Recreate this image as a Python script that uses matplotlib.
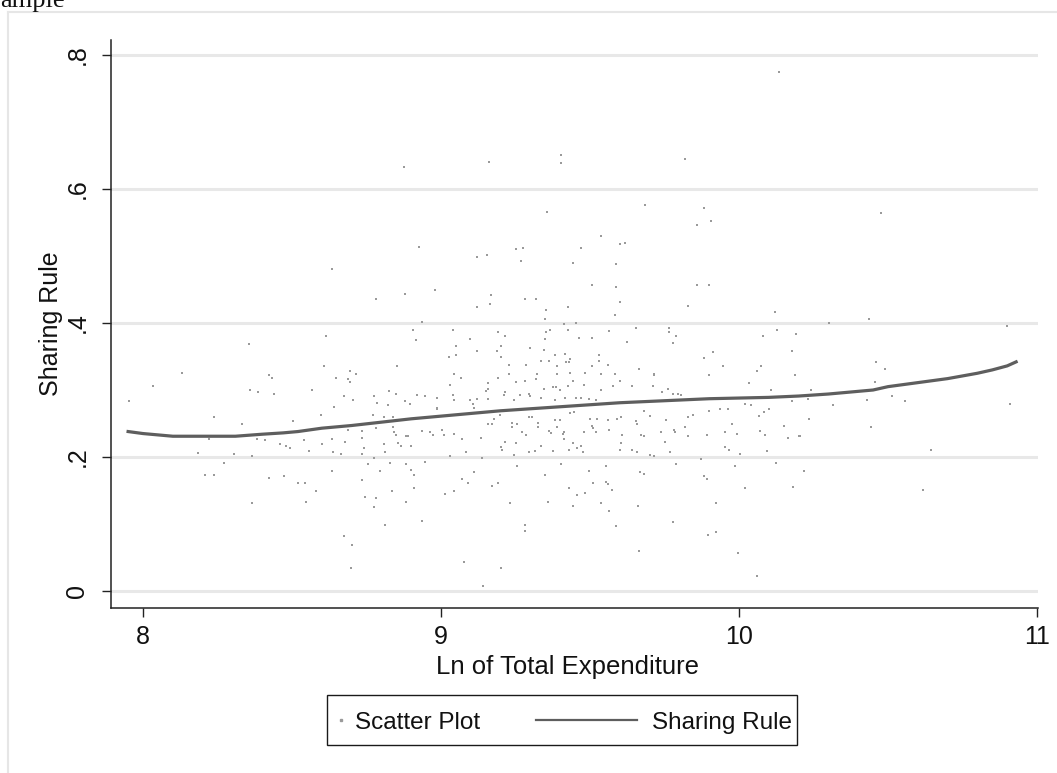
import matplotlib
matplotlib.use('Agg')
import matplotlib.pyplot as plt
from matplotlib.lines import Line2D
from matplotlib.patches import Rectangle

# ---------------- data ----------------
# scatter points (Ln of total expenditure, sharing rule), read region by region
scatter_x = [
    # left region
    8.356, 8.131, 8.034, 7.953, 8.423, 8.432, 8.360, 8.387, 8.441, 8.239,
    8.333, 8.503, 8.221, 8.383, 8.409, 8.459, 8.481, 8.494, 8.186, 8.306,
    8.365, 8.271, 8.208, 8.239, 8.423, 8.472, 8.521, 8.365,
    # upper middle
    8.876, 9.162, 9.404, 9.404, 9.820, 9.686, 9.355, 9.860, 9.538, 9.601,
    9.618, 8.925, 9.471, 9.252, 9.274, 9.153, 9.122, 9.269, 9.444, 9.587,
    8.634, 9.507, 9.587, 9.860, 8.979, 8.880, 9.167, 8.782, 9.283, 9.319,
    9.120, 9.166, 9.353, 9.426, 9.601, 9.583, 9.828, 9.350, 8.937, 9.413,
    9.452,
    # central band above curve
    8.615, 8.906, 8.915, 9.040, 9.098, 9.049, 9.121, 9.027, 9.049, 9.192,
    9.215, 9.201, 9.188, 9.201, 9.353, 9.367, 9.349, 9.426, 9.462, 9.507,
    9.565, 9.654, 9.765, 9.765, 9.788, 9.779, 9.623, 9.300, 9.345, 9.417,
    9.381, 9.529, 9.337, 9.362, 9.421, 9.430, 9.433, 9.529, 9.229, 9.286,
    9.389, 9.507, 9.560, 8.606, 8.852, 8.696, 8.714, 8.647, 8.687, 8.696,
    8.566, 9.045, 9.067, 9.228, 9.322, 9.389, 9.433, 9.484, 9.538, 9.583,
    9.663, 9.716, 9.716, 9.192, 9.319, 9.252, 9.282, 9.443, 9.601, 9.157,
    9.031, 9.157, 9.152, 9.345, 9.377, 9.386, 9.399, 9.426, 9.480, 9.538,
    9.578, 9.641, 9.711, 9.761, 9.743, 9.779, 9.796, 9.805, 8.826, 8.848,
    8.919, 8.946, 8.987, 8.673, 8.776, 8.705, 8.785, 8.879, 8.897, 8.821,
    8.642, 8.987, 9.045, 9.098, 9.121, 9.157, 9.107, 9.112, 9.040, 9.215,
    9.210, 9.246, 9.264, 9.295, 9.298, 9.336, 9.381, 9.417, 9.453, 9.471,
    9.498, 9.520,
    # central band below curve
    8.597, 8.772, 8.808, 8.839, 8.987, 9.197, 9.295, 9.304, 9.381, 9.399,
    9.433, 9.447, 9.501, 9.525, 9.560, 9.592, 9.605, 9.654, 9.659, 9.680,
    9.702, 9.756, 9.828, 9.846, 9.819, 9.783, 9.786, 9.738, 9.828, 9.671,
    9.680, 9.608, 9.565, 9.520, 9.480, 9.507, 9.511, 9.390, 9.362, 9.368,
    9.409, 9.412, 9.413, 9.444, 9.471, 9.457, 9.430, 9.475, 9.605, 9.601,
    9.641, 9.659, 9.702, 9.716, 9.752, 9.770, 9.337, 9.377, 9.315, 9.295,
    9.246, 9.251, 9.215, 9.206, 9.201, 9.273, 9.286, 9.327, 9.327, 9.237,
    9.255, 9.237, 9.157, 9.170, 9.179, 9.134, 9.071, 9.085, 9.031, 9.139,
    9.045, 9.009, 9.004, 8.973, 8.964, 8.937, 8.901, 8.888, 8.884, 8.866,
    8.857, 8.848, 8.843, 8.839, 8.808, 8.812, 8.781, 8.736, 8.736, 8.741,
    8.736, 8.687, 8.678, 8.633, 8.602, 8.539, 8.557, 8.638, 8.664,
    # below .2
    8.776, 8.754, 8.830, 8.884, 8.901, 8.910, 8.946, 8.633, 8.794, 8.544,
    8.580, 8.548, 8.736, 8.834, 8.910, 8.745, 8.781, 8.776, 8.884, 8.812,
    8.937, 8.673, 8.700, 9.013, 9.045, 9.071, 9.090, 9.112, 9.170, 9.192,
    9.233, 9.255, 9.282, 9.282, 9.349, 9.358, 9.403, 9.430, 9.456, 9.483,
    9.443, 9.497, 9.510, 9.555, 9.555, 9.560, 9.573, 9.537, 9.564, 9.586,
    9.667, 9.680, 9.662, 9.788, 9.779,
    # right-middle region
    10.120, 10.128, 10.191, 10.080, 9.914, 9.883, 10.178, 9.946, 10.075, 10.061,
    9.900, 10.187, 10.035, 10.106, 10.178, 10.021, 10.039, 9.900, 9.936, 9.963,
    10.101, 10.084, 10.066, 9.977, 10.151, 10.070, 10.088, 9.954, 9.994, 9.891,
    10.164, 10.200, 9.954, 9.967, 10.003, 10.093, 9.873, 9.986, 10.124, 9.883,
    9.891, 10.021, 10.182, 9.923, 9.923, 9.896,
    # far right
    10.303, 10.437, 10.898, 10.460, 10.491, 10.455, 10.240, 10.231, 10.513, 10.428,
    10.558, 10.316, 10.911, 10.236, 10.442, 10.205, 10.643, 10.218, 10.616,
    # top right outliers
    10.134, 9.883, 9.906, 10.478, 9.900,
    # bottom outliers
    9.664, 9.996, 9.077, 8.697, 9.200, 10.059, 9.141,
]
scatter_y = [
    # left region
    0.368, 0.326, 0.306, 0.283, 0.322, 0.318, 0.300, 0.297, 0.294, 0.259,
    0.249, 0.253, 0.227, 0.227, 0.225, 0.219, 0.217, 0.213, 0.206, 0.204,
    0.202, 0.191, 0.173, 0.173, 0.169, 0.171, 0.161, 0.131,
    # upper middle
    0.633, 0.641, 0.651, 0.639, 0.645, 0.576, 0.566, 0.546, 0.530, 0.518,
    0.520, 0.514, 0.512, 0.510, 0.512, 0.502, 0.498, 0.492, 0.490, 0.488,
    0.480, 0.456, 0.454, 0.456, 0.450, 0.444, 0.442, 0.436, 0.436, 0.436,
    0.424, 0.428, 0.419, 0.424, 0.432, 0.412, 0.426, 0.406, 0.402, 0.398,
    0.400,
    # central band above curve
    0.381, 0.389, 0.374, 0.390, 0.376, 0.366, 0.358, 0.350, 0.352, 0.386,
    0.381, 0.366, 0.358, 0.350, 0.386, 0.390, 0.376, 0.390, 0.378, 0.378,
    0.388, 0.392, 0.392, 0.386, 0.381, 0.370, 0.372, 0.362, 0.360, 0.354,
    0.352, 0.352, 0.344, 0.344, 0.342, 0.342, 0.346, 0.344, 0.338, 0.338,
    0.336, 0.336, 0.338, 0.336, 0.336, 0.328, 0.324, 0.318, 0.316, 0.312,
    0.300, 0.324, 0.318, 0.324, 0.324, 0.324, 0.326, 0.326, 0.324, 0.324,
    0.332, 0.324, 0.322, 0.318, 0.316, 0.312, 0.314, 0.314, 0.314, 0.310,
    0.308, 0.302, 0.298, 0.302, 0.304, 0.304, 0.300, 0.306, 0.308, 0.300,
    0.306, 0.306, 0.306, 0.302, 0.297, 0.294, 0.294, 0.293, 0.298, 0.294,
    0.293, 0.291, 0.288, 0.291, 0.291, 0.285, 0.281, 0.283, 0.279, 0.277,
    0.275, 0.273, 0.285, 0.285, 0.287, 0.287, 0.279, 0.273, 0.293, 0.297,
    0.293, 0.285, 0.293, 0.294, 0.291, 0.288, 0.285, 0.288, 0.288, 0.288,
    0.287, 0.285,
    # central band below curve
    0.263, 0.263, 0.259, 0.259, 0.271, 0.263, 0.259, 0.259, 0.255, 0.255,
    0.265, 0.267, 0.257, 0.257, 0.255, 0.257, 0.259, 0.253, 0.249, 0.269,
    0.261, 0.255, 0.259, 0.263, 0.245, 0.241, 0.238, 0.237, 0.231, 0.233,
    0.231, 0.233, 0.241, 0.237, 0.237, 0.247, 0.244, 0.245, 0.239, 0.236,
    0.235, 0.238, 0.227, 0.221, 0.217, 0.213, 0.211, 0.207, 0.221, 0.211,
    0.211, 0.207, 0.203, 0.201, 0.223, 0.207, 0.217, 0.209, 0.209, 0.207,
    0.203, 0.221, 0.223, 0.211, 0.215, 0.237, 0.233, 0.245, 0.251, 0.251,
    0.249, 0.245, 0.249, 0.249, 0.257, 0.229, 0.227, 0.207, 0.201, 0.199,
    0.235, 0.233, 0.241, 0.233, 0.237, 0.239, 0.217, 0.231, 0.231, 0.217,
    0.221, 0.233, 0.237, 0.245, 0.219, 0.207, 0.243, 0.239, 0.229, 0.213,
    0.205, 0.241, 0.223, 0.227, 0.219, 0.225, 0.209, 0.207, 0.205,
    # below .2
    0.199, 0.189, 0.191, 0.189, 0.181, 0.173, 0.193, 0.179, 0.179, 0.161,
    0.149, 0.133, 0.165, 0.149, 0.153, 0.141, 0.139, 0.125, 0.133, 0.099,
    0.105, 0.082, 0.068, 0.145, 0.149, 0.167, 0.161, 0.177, 0.157, 0.161,
    0.131, 0.187, 0.099, 0.090, 0.173, 0.133, 0.189, 0.153, 0.143, 0.147,
    0.127, 0.179, 0.161, 0.187, 0.163, 0.160, 0.151, 0.131, 0.119, 0.097,
    0.177, 0.175, 0.127, 0.189, 0.103,
    # right-middle region
    0.416, 0.390, 0.384, 0.380, 0.356, 0.348, 0.358, 0.336, 0.336, 0.328,
    0.322, 0.322, 0.310, 0.300, 0.283, 0.279, 0.277, 0.269, 0.271, 0.271,
    0.271, 0.267, 0.261, 0.249, 0.247, 0.239, 0.233, 0.237, 0.235, 0.233,
    0.229, 0.231, 0.215, 0.211, 0.205, 0.209, 0.197, 0.187, 0.191, 0.171,
    0.167, 0.153, 0.155, 0.131, 0.088, 0.084,
    # far right
    0.400, 0.406, 0.396, 0.342, 0.332, 0.312, 0.300, 0.287, 0.291, 0.285,
    0.283, 0.277, 0.279, 0.257, 0.245, 0.231, 0.211, 0.179, 0.151,
    # top right outliers
    0.775, 0.572, 0.552, 0.564, 0.456,
    # bottom outliers
    0.059, 0.057, 0.043, 0.035, 0.035, 0.023, 0.007,
]

# fitted sharing rule curve
curve_x = [7.95, 8.00, 8.05, 8.10, 8.20, 8.31, 8.40, 8.47, 8.52, 8.60,
           8.70, 8.80, 8.90, 9.00, 9.10, 9.20, 9.30, 9.40, 9.50, 9.60,
           9.70, 9.80, 9.90, 10.00, 10.10, 10.20, 10.30, 10.40, 10.45, 10.50,
           10.55, 10.60, 10.65, 10.70, 10.75, 10.80, 10.85, 10.90, 10.93]
curve_y = [0.238, 0.235, 0.233, 0.231, 0.231, 0.231, 0.234, 0.236, 0.238, 0.243,
           0.247, 0.252, 0.257, 0.261, 0.265, 0.269, 0.272, 0.275, 0.278, 0.281,
           0.283, 0.285, 0.287, 0.288, 0.289, 0.291, 0.294, 0.298, 0.300, 0.305,
           0.308, 0.311, 0.314, 0.317, 0.321, 0.325, 0.330, 0.336, 0.342]

x_ticks = [8, 9, 10, 11]
x_tick_labels = ['8', '9', '10', '11']
y_ticks = [0, 0.2, 0.4, 0.6, 0.8]
y_tick_labels = ['0', '.2', '.4', '.6', '.8']

x_label = 'Ln of Total Expenditure'
y_label = 'Sharing Rule'
legend_labels = ['Scatter Plot', 'Sharing Rule']

# ---------------- figure ----------------
plt.rcParams['font.family'] = ['Liberation Sans', 'DejaVu Sans']
W, H = 1057, 773
fig = plt.figure(figsize=(W / 100, H / 100), dpi=100)
fig.patch.set_facecolor('white')

def fx(px):
    return px / W

def fy(py):
    return 1 - py / H

# outer frame (light)
fig.add_artist(Line2D([fx(8), fx(1057)], [fy(12), fy(12)], transform=fig.transFigure,
                      color='#e6e6e6', lw=1.5))
fig.add_artist(Line2D([fx(8), fx(8)], [fy(12), fy(773)], transform=fig.transFigure,
                      color='#e6e6e6', lw=1.5))

# clipped title remnant at top-left (the reference shows it cut at the top edge)
fig.text(fx(0), fy(7), 'ample', family=['Liberation Serif', 'DejaVu Serif'],
         fontsize=19, ha='left', va='baseline', color='#111111')

ax = fig.add_axes([fx(111), fy(608), (1038 - 111) / W, (608 - 40) / H])
ax.set_xlim(7.8926, 11.0034)
ax.set_ylim(-0.02537, 0.8224)

ax.yaxis.grid(True, color='#e8e8e8', lw=2.2)
ax.xaxis.grid(False)
ax.set_axisbelow(True)

ax.scatter(scatter_x, scatter_y, s=3, c='#9a9a9a', marker='s', linewidths=0, zorder=2)
ax.plot(curve_x, curve_y, color='#5e5e5e', lw=2.3, zorder=3)

for side in ['top', 'right']:
    ax.spines[side].set_visible(False)
for side in ['left', 'bottom']:
    ax.spines[side].set_color('#222222')
    ax.spines[side].set_linewidth(1.1)

ax.set_xticks(x_ticks)
ax.set_xticklabels(x_tick_labels)
ax.set_yticks(y_ticks)
ax.set_yticklabels(y_tick_labels, rotation=90, va='center')
ax.tick_params(axis='both', length=6.5, width=1.0, color='#222222', labelsize=18,
               labelcolor='#111111')
ax.tick_params(axis='x', pad=6)
ax.tick_params(axis='y', pad=9)

ax.set_xlabel(x_label, fontsize=18.5, color='#111111')
ax.set_ylabel(y_label, fontsize=18, color='#111111')
ax.xaxis.set_label_coords((567 - 111) / 927, -(655 - 608) / 568)
ax.yaxis.set_label_coords(-(111 - 63) / 927, 0.5)

# legend box drawn by hand (Stata-style key layout)
fig.add_artist(Rectangle((fx(327), fy(745)), (797 - 327) / W, 50 / H,
                         transform=fig.transFigure, fill=False,
                         edgecolor='#1a1a1a', lw=1.0))
fig.add_artist(Line2D([fx(341)], [fy(720)], transform=fig.transFigure,
                      marker='s', markersize=1.6, color='#9a9a9a', lw=0))
fig.text(fx(355), fy(729), legend_labels[0], fontsize=17.5, ha='left', va='baseline',
         color='#111111')
fig.add_artist(Line2D([fx(536), fx(637)], [fy(720), fy(720)], transform=fig.transFigure,
                      color='#5e5e5e', lw=1.6))
fig.text(fx(652), fy(729), legend_labels[1], fontsize=17.5, ha='left', va='baseline',
         color='#111111')

fig.savefig('out.png', dpi=100)
